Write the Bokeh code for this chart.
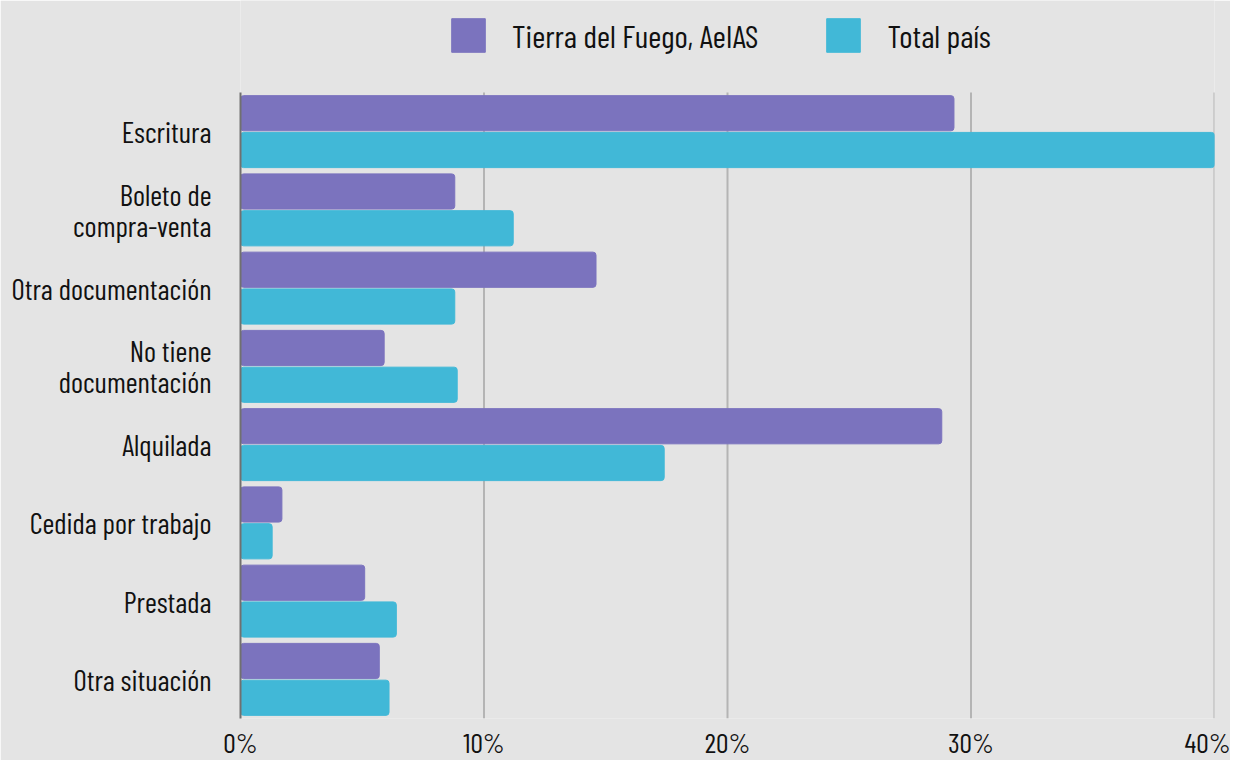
from bokeh.plotting import figure
from bokeh.models import ColumnDataSource, Legend, LegendItem, Range1d, FixedTicker, CustomJSTickFormatter
from bokeh.transform import dodge
from bokeh.embed import file_html
from bokeh.resources import INLINE

categories = ["Escritura", "Boleto de\ncompra-venta", "Otra documentación", "No tiene\ndocumentación",
              "Alquilada", "Cedida por trabajo", "Prestada", "Otra situación"]
tierra = [29.3, 8.8, 14.6, 5.9, 28.8, 1.7, 5.1, 5.7]
total = [40.1, 11.2, 8.8, 8.9, 17.4, 1.3, 6.4, 6.1]
series_names = ["Tierra del Fuego, AeIAS", "Total país"]
x_ticks = [0, 10, 20, 30, 40]

FONT = "Barlow Condensed"
BG = "#e4e4e4"
PURPLE = "#7b73be"
CYAN = "#41b8d7"
W = 1230
FRAME_W = 974
BAND_PX = 78.25          # pixel height of one category band
TOP_PX = 92              # space above the bars (legend strip)

n = len(categories)
frame_h = int(round(n * BAND_PX + TOP_PX))
ypos = [n - i - 0.5 for i in range(n)]
src = ColumnDataSource(dict(y=ypos, cat=categories, tierra=tierra, total=total))

p = figure(frame_width=FRAME_W, frame_height=frame_h,
           output_backend="svg", toolbar_location=None,
           y_range=Range1d(0, n + TOP_PX / BAND_PX), x_range=Range1d(0, 40),
           background_fill_color=BG, border_fill_color=BG, outline_line_color=None,
           min_border_left=240, min_border_right=W - 240 - FRAME_W, min_border_top=0, min_border_bottom=40)

# vertical grid lines limited to the bar area
p.segment(x0=x_ticks[1:], x1=x_ticks[1:], y0=[0] * (len(x_ticks) - 1), y1=[n] * (len(x_ticks) - 1),
          line_color="#b4b4b4", line_width=2, level="underlay")

r1 = p.hbar(y=dodge("y", 0.235), right="tierra", left=0, height=0.45, source=src,
            fill_color=PURPLE, line_color=PURPLE, border_radius=3)
r2 = p.hbar(y=dodge("y", -0.235), right="total", left=0, height=0.45, source=src,
            fill_color=CYAN, line_color=CYAN, border_radius=3)

p.xgrid.grid_line_color = None
p.ygrid.grid_line_color = None

p.xaxis.ticker = FixedTicker(ticks=x_ticks)
p.xaxis.formatter = CustomJSTickFormatter(code="return tick + '%';")
p.xaxis.axis_line_color = None
p.xaxis.major_tick_line_color = None
p.xaxis.minor_tick_line_color = None
p.xaxis.major_label_text_font = FONT
p.xaxis.major_label_text_font_size = "28px"
p.xaxis.major_label_text_color = "#111111"
p.xaxis.major_label_standoff = 0

p.yaxis.ticker = FixedTicker(ticks=ypos)
p.yaxis.major_label_overrides = {y: c for y, c in zip(ypos, categories)}
p.yaxis.bounds = (0, n)
p.yaxis.axis_line_color = "#707070"
p.yaxis.axis_line_width = 2
p.yaxis.major_tick_line_color = None
p.yaxis.minor_tick_line_color = None
p.yaxis.major_label_text_font = FONT
p.yaxis.major_label_text_font_size = "29px"
p.yaxis.major_label_text_color = "#111111"
p.yaxis.major_label_text_line_height = 0.88
p.yaxis.major_label_standoff = 23

legend = Legend(items=[LegendItem(label=series_names[0], renderers=[r1]),
                       LegendItem(label=series_names[1], renderers=[r2])],
                orientation="horizontal", location=(207, frame_h - 56),
                glyph_width=42, glyph_height=42, label_standoff=23, spacing=64,
                label_text_font=FONT, label_text_font_size="32px", label_text_color="#111111",
                background_fill_alpha=0, border_line_alpha=0, padding=0, margin=0,
                label_height=42)
p.add_layout(legend, "center")

open("out.html", "w").write(file_html(p, INLINE))
